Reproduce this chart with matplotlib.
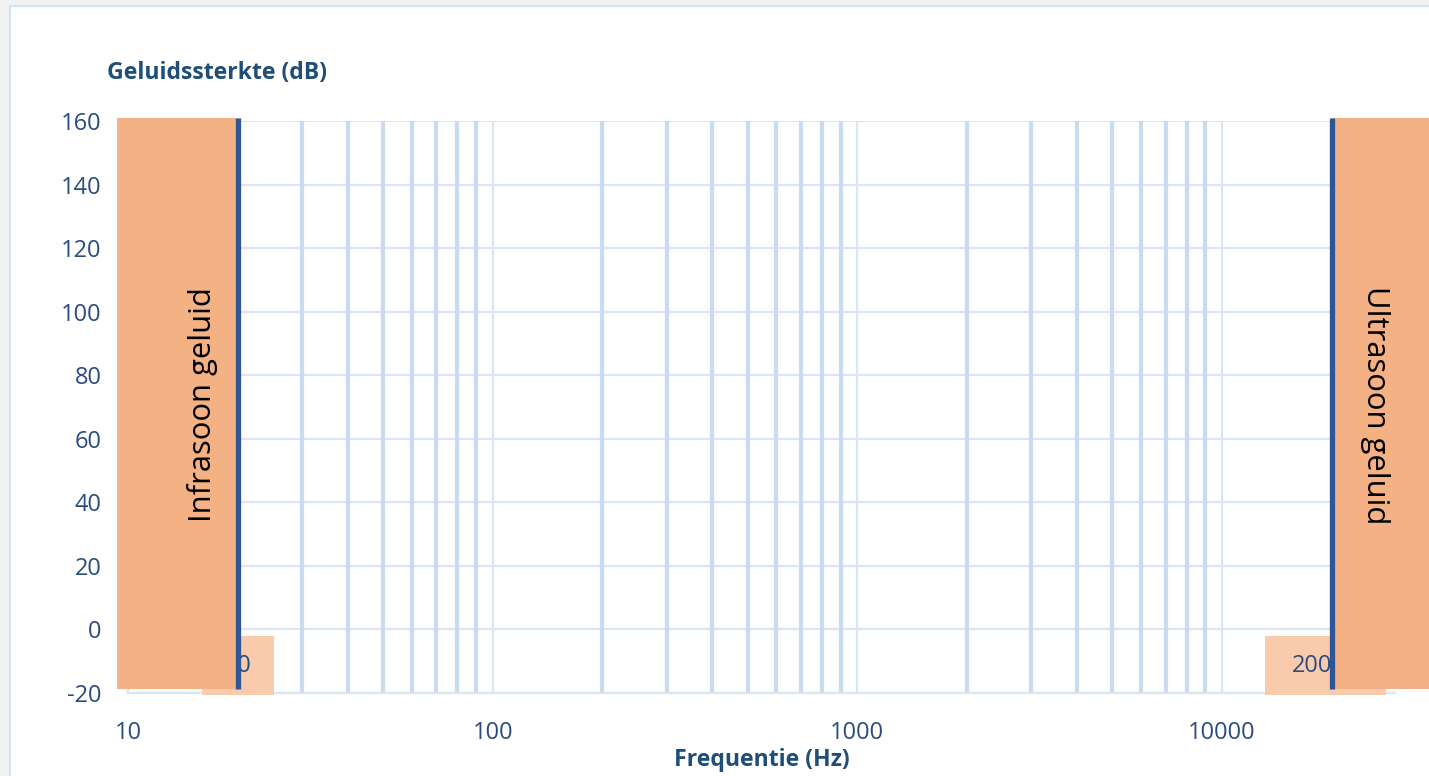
import matplotlib
matplotlib.use("Agg")
from matplotlib import pyplot as plt
from matplotlib.patches import Rectangle

# frequency limits of human hearing (Hz)
limits = [20, 20000]
limit_labels = ["20", "20000"]
# peach data-label boxes around the limit labels (Hz, dB)
label_box_x = [(16.0, 25.1), (13100, 28100)]
label_box_y = (-20.5, -2.2)
# orange bands with the region names
band_names = ["Infrasoon geluid", "Ultrasoon geluid"]
band_x = [(9.3, 20), (20000, 100000)]
band_y = (-18.7, 160.9)

yticks = list(range(-20, 161, 20))
xticks = [10, 100, 1000, 10000]
minor_x = [m * d for d in (10, 100, 1000) for m in range(2, 10)] + [20000]

TXT = "#2B4C80"
NAVY = "#1F4E79"
GRID = "#C9DAF1"
GRID_LIGHT = "#DAE5F5"
ORANGE = "#F4B183"
PEACH = "#F8CBAD"
BLUE = "#2F5597"

plt.rcParams['font.family'] = ['Open Sans', 'DejaVu Sans']
plt.rcParams['axes.unicode_minus'] = False

fig = plt.figure(figsize=(14.29, 7.76), dpi=100, facecolor="#F2F2F2")
# white chart area with thin border
fig.patches.append(Rectangle((10 / 1429, -0.05), 1.1, (776 - 6) / 776 + 0.05,
                             transform=fig.transFigure, facecolor="white",
                             edgecolor="#D6E3F5", lw=1.5, zorder=-10))

ax = fig.add_axes([128 / 1429, 83 / 776, (1395 - 128) / 1429, (693 - 121) / 776])
ax.set_facecolor("none")
ax.set_xscale("log")

ax.set_yticks(yticks)
ax.set_xticks(xticks)
ax.set_xticklabels([str(t) for t in xticks])
ax.set_xticks(minor_x, minor=True)
ax.tick_params(which="both", length=0)
ax.tick_params(axis="y", labelsize=17, labelcolor=TXT, pad=19)
ax.tick_params(axis="x", labelsize=17, labelcolor=TXT, pad=20)
ax.tick_params(axis="x", which="minor", labelbottom=False)

for t in yticks:
    ax.axhline(t, color=GRID_LIGHT, lw=1.6, zorder=1)
for m in minor_x:
    ax.axvline(m, color=GRID, lw=3.0, zorder=1)
for d in xticks[1:]:
    ax.axvline(d, color=GRID_LIGHT, lw=1.6, zorder=1)

for s in ax.spines.values():
    s.set_visible(False)
for side in ("bottom", "left"):
    ax.spines[side].set_visible(True)
    ax.spines[side].set_color(GRID_LIGHT)
    ax.spines[side].set_linewidth(1.6)

# data labels (partly hidden behind the bands)
for (x0, x1), lab in zip(label_box_x, limit_labels):
    ax.add_patch(Rectangle((x0, label_box_y[0]), x1 - x0, label_box_y[1] - label_box_y[0],
                           facecolor=PEACH, edgecolor="none", zorder=3, clip_on=False))
    ax.text((x0 * x1) ** 0.5, (label_box_y[0] + label_box_y[1]) / 2, lab,
            ha="center", va="center", fontsize=17, color=TXT, zorder=4)

# orange bands with names
for (x0, x1) in band_x:
    ax.add_patch(Rectangle((x0, band_y[0]), x1 - x0, band_y[1] - band_y[0],
                           facecolor=ORANGE, edgecolor="none", zorder=5, clip_on=False))
fig.text(203 / 1429, 1 - 405 / 776, band_names[0], rotation=90, ha="center",
         va="center", fontsize=22.3, color="black", zorder=10)
fig.text(1375 / 1429, 1 - 405 / 776, band_names[1], rotation=-90, ha="center",
         va="center", fontsize=22.3, color="black", zorder=10)

# limit lines
ax.vlines(limits, band_y[0], band_y[1], colors=BLUE, lw=3.8, zorder=6, clip_on=False)

ax.set_xlim(10, 29800)
ax.set_ylim(-20, 160)

fig.text(107 / 1429, 1 - 73 / 776, "Geluidssterkte (dB)", ha="left", va="center",
         fontsize=16.6, fontweight="bold", color=NAVY)
ax.set_xlabel("Frequentie (Hz)", fontsize=16.6, fontweight="bold", color=NAVY, labelpad=2)

fig.savefig("out.png", dpi=100, facecolor=fig.get_facecolor())
